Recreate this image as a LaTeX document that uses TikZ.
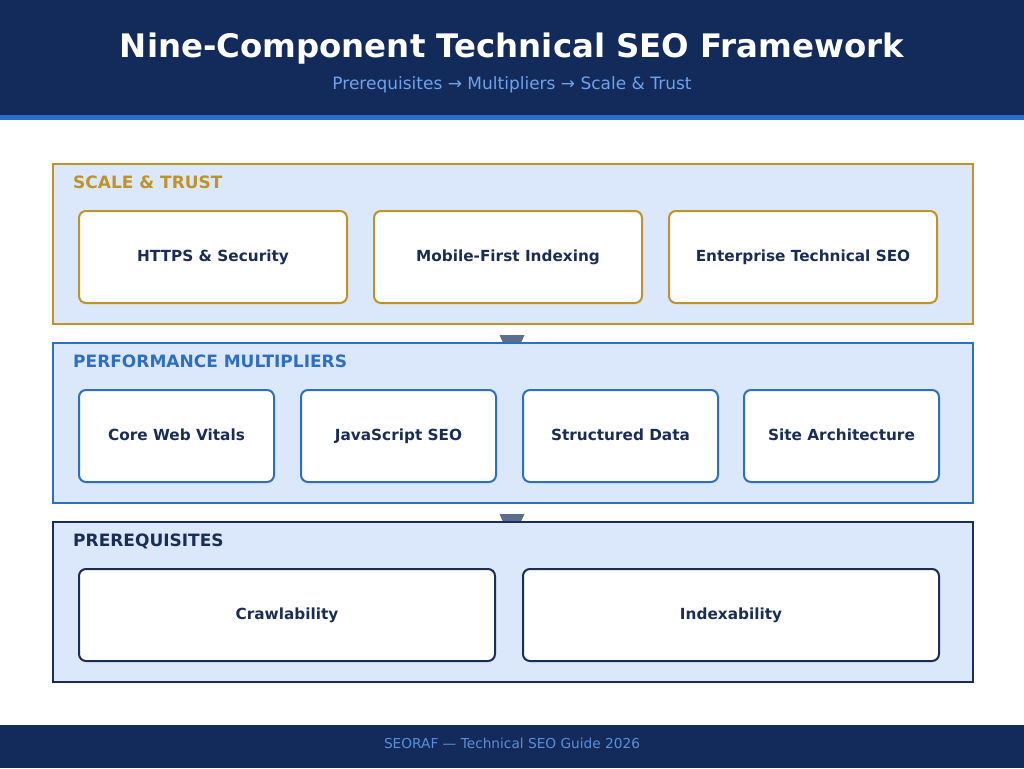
\documentclass[tikz,border=0pt]{standalone}
\usepackage{fontspec}
\setmainfont{DejaVu Sans}
\usetikzlibrary{calc}
\definecolor{navy}{HTML}{122B5A}
\definecolor{stripe}{HTML}{2D6CC8}
\definecolor{subblue}{HTML}{6EA2EC}
\definecolor{footblue}{HTML}{5B8FD8}
\definecolor{layerfill}{HTML}{DBE8FB}
\definecolor{gold}{HTML}{C0922A}
\definecolor{midblue}{HTML}{2F6FC0}
\definecolor{darknavy}{HTML}{1A2E55}
\definecolor{arrowc}{HTML}{5B6F8C}
\tikzset{
  layerbox/.style={draw=#1, line width=2pt, fill=layerfill, anchor=north west, minimum width=920pt, minimum height=160pt, inner sep=0pt},
  layerlabel/.style={text=#1, font=\bfseries\fontsize{17}{19}\selectfont, anchor=base west, inner sep=0pt},
  compbox/.style={draw=#1, line width=2pt, fill=white, rounded corners=7pt, anchor=north west, minimum height=92pt, inner sep=0pt, text height=11pt, text depth=3pt, text=darknavy, font=\bfseries\fontsize{15.3}{18}\selectfont},
  tri/.style={fill=arrowc},
}
\begin{document}
\begin{tikzpicture}[x=1pt,y=-1pt]
\useasboundingbox (0,0) rectangle (1024,768);
% header and footer
\fill[navy] (0,0) rectangle (1024,115);
\fill[stripe] (0,115) rectangle (1024,120);
\fill[navy] (0,725) rectangle (1024,768);
\node[text=white, font=\bfseries\fontsize{32.4}{36}\selectfont, anchor=base] (title) at (512,57) {Nine-Component Technical SEO Framework};
\node[text=subblue, font=\fontsize{17}{20}\selectfont, anchor=base] (subtitle) at (512,89) {Prerequisites → Multipliers → Scale \& Trust};
\node[text=footblue, font=\fontsize{13.7}{16}\selectfont, anchor=base] (footer) at (512,748) {SEORAF — Technical SEO Guide 2026};
% connector coordinates
\coordinate (a1) at (512,323);
\coordinate (a2) at (512,502);
% arrows (partly hidden under lower layers)
\fill[tri] ($(a1)+(-12.5,12)$) -- ($(a1)+(12.5,12)$) -- ($(a1)+(0,40)$) -- cycle;
\fill[tri] ($(a2)+(-12.5,12)$) -- ($(a2)+(12.5,12)$) -- ($(a2)+(0,40)$) -- cycle;
% layers
\node[layerbox=gold] (L1) at (52,163) {};
\node[layerbox=midblue] (L2) at (52,342) {};
\node[layerbox=darknavy] (L3) at (52,521) {};
\node[layerlabel=gold] (l1) at (73,188) {SCALE \& TRUST};
\node[layerlabel=midblue] (l2) at (73,367) {PERFORMANCE MULTIPLIERS};
\node[layerlabel=darknavy] (l3) at (73,546) {PREREQUISITES};
% scale & trust
\node[compbox=gold, minimum width=268pt] (c1) at (78,210) {HTTPS \& Security};
\node[compbox=gold, minimum width=268pt] (c2) at (373,210) {Mobile-First Indexing};
\node[compbox=gold, minimum width=268pt] (c3) at (668,210) {Enterprise Technical SEO};
% multipliers
\node[compbox=midblue, minimum width=195pt] (m1) at (78,389) {Core Web Vitals};
\node[compbox=midblue, minimum width=195pt] (m2) at (300,389) {JavaScript SEO};
\node[compbox=midblue, minimum width=195pt] (m3) at (522,389) {Structured Data};
\node[compbox=midblue, minimum width=195pt] (m4) at (743,389) {Site Architecture};
% prerequisites
\node[compbox=darknavy, minimum width=416pt] (p1) at (78,568) {Crawlability};
\node[compbox=darknavy, minimum width=416pt] (p2) at (522,568) {Indexability};
\end{tikzpicture}
\end{document}
